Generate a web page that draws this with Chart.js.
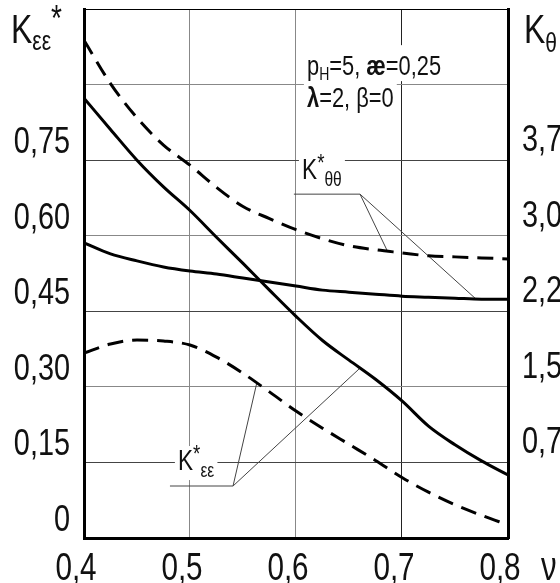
<!DOCTYPE html>
<html>
<head>
<meta charset="utf-8">
<script src="https://cdn.jsdelivr.net/npm/chart.js@4.4.1/dist/chart.umd.min.js"></script>
<style>
  html, body { margin: 0; padding: 0; background: #fff; overflow: hidden; }
</style>
</head>
<body>
<canvas class="js-chart" width="560" height="583"></canvas>
<script>
// values
const nu = [0.4, 0.425, 0.45, 0.475, 0.5, 0.525, 0.55, 0.575, 0.6, 0.625, 0.65, 0.675, 0.7, 0.725, 0.75, 0.775, 0.8]
const kEpsSolid = [0.873, 0.811, 0.750, 0.697, 0.650, 0.597, 0.545, 0.492, 0.440, 0.392, 0.353, 0.315, 0.272, 0.222, 0.185, 0.153, 0.125]
const kEpsDashed = [0.367, 0.385, 0.393, 0.391, 0.383, 0.359, 0.327, 0.290, 0.252, 0.218, 0.186, 0.154, 0.120, 0.091, 0.066, 0.045, 0.026]
const kThetaSolid = [2.93, 2.82, 2.75, 2.69, 2.65, 2.62, 2.58, 2.54, 2.50, 2.46, 2.44, 2.42, 2.40, 2.39, 2.38, 2.37, 2.37]
const kThetaDashed = [4.94, 4.51, 4.17, 3.90, 3.70, 3.48, 3.29, 3.17, 3.06, 2.97, 2.90, 2.86, 2.83, 2.80, 2.79, 2.78, 2.77]

const xTicks = ['0,4', '0,5', '0,6', '0,7', '0,8']
const leftTicks = ['0', '0,15', '0,30', '0,45', '0,60', '0,75']
const rightTicks = ['0,75', '1,50', '2,25', '3,00', '3,75']

// no narrow font installed, so text is squeezed sideways to look like the drafting font
const FONT = "'Liberation Sans', Arimo, sans-serif"
const SQUEEZE = 0.78

const toPoints = function(ys){
    return nu.map((x, i) => ({x: x, y: ys[i]}))
}

const setFont = function(ctx, size, bold){
    ctx.font = `${bold ? 'bold ' : ''}${size}px ${FONT}`
}

const drawText = function(ctx, text, x, y, size, align){
    ctx.save()
    setFont(ctx, size)
    const w = ctx.measureText(text).width * SQUEEZE
    let x0 = x
    if(align == 'right') x0 = x - w
    if(align == 'center') x0 = x - w / 2
    ctx.translate(x0, y)
    ctx.scale(SQUEEZE, 1)
    ctx.fillStyle = '#111'
    ctx.textAlign = 'left'
    ctx.textBaseline = 'alphabetic'
    ctx.fillText(text, 0, 0)
    ctx.restore()
}

// draws a run of text pieces: [text, size, dy, bold]
const drawRun = function(ctx, x, y, parts, mask){
    ctx.save()
    ctx.translate(x, y)
    ctx.scale(SQUEEZE, 1)
    const widths = parts.map(p => {
        setFont(ctx, p[1], p[3])
        return ctx.measureText(p[0]).width
    })
    if(mask){
        const w = widths.reduce((a, b) => a + b, 0)
        ctx.fillStyle = '#fff'
        ctx.fillRect(-4, -mask[0], w + 8, mask[0] + mask[1])
    }
    ctx.fillStyle = '#111'
    ctx.textBaseline = 'alphabetic'
    ctx.textAlign = 'left'
    let cx = 0
    parts.forEach((p, i) => {
        setFont(ctx, p[1], p[3])
        ctx.fillText(p[0], cx, p[2] || 0)
        cx += widths[i]
    })
    ctx.restore()
}

const notes = {
    id: 'notes',
    beforeDatasetsDraw(chart){
        const ctx = chart.ctx
        const sx = chart.scales.x, sy = chart.scales.y
        const px = v => sx.getPixelForValue(v)
        const py = v => sy.getPixelForValue(v)
        ctx.save()
        // parameter block
        drawRun(ctx, px(0.6104), py(0.9187), [['p', 28], ['H', 18, 5], ['=5, ', 28], ['æ', 28, 0, true], ['=0,25', 28]], [30, 6])
        drawRun(ctx, px(0.6104), py(0.855), [['λ', 28, 0, true], ['=2, β=0', 28]], [24, 4])
        // curve labels
        drawRun(ctx, px(0.6057), py(0.7123), [['K', 29], ['*', 24, -8], ['θθ', 20, 7]], [28, 12])
        drawRun(ctx, px(0.4887), py(0.1349), [['K', 29], ['*', 24, -8], ['εε', 20, 7]], [24, 10])
        // leader lines
        ctx.strokeStyle = '#444'
        ctx.lineWidth = 1
        const lead = function(pts){
            ctx.beginPath()
            ctx.moveTo(px(pts[0][0]), py(pts[0][1]))
            for(const p of pts.slice(1)) ctx.lineTo(px(p[0]), py(p[1]))
            ctx.stroke()
        }
        lead([[0.598, 0.6825], [0.6604, 0.6825], [0.6858, 0.5714]])
        lead([[0.6604, 0.6825], [0.7689, 0.476]])
        lead([[0.4811, 0.1032], [0.5406, 0.1032], [0.5632, 0.3095]])
        lead([[0.5406, 0.1032], [0.6604, 0.3373]])
        ctx.restore()
    },
    afterDraw(chart){
        const ctx = chart.ctx
        const area = chart.chartArea
        const sx = chart.scales.x, sy = chart.scales.y, sy2 = chart.scales.y2
        // tick labels
        sx.ticks.forEach((t, i) => {
            if(xTicks[i]) drawText(ctx, xTicks[i], sx.getPixelForTick(i) - 8, area.bottom + 42, 38, 'center')
        })
        sy.ticks.forEach((t, i) => {
            if(leftTicks[i]) drawText(ctx, leftTicks[i], area.left - 14, sy.getPixelForTick(i) - 7, 37, 'right')
        })
        sy2.ticks.forEach((t, i) => {
            if(i > 0 && rightTicks[i - 1]) drawText(ctx, rightTicks[i - 1], area.right + 14, sy2.getPixelForTick(i) - 9, 37, 'left')
        })
        // axis titles
        drawRun(ctx, 11, 43, [['K', 41], ['εε', 27, 7], ['*', 36, -12]])
        drawRun(ctx, 524, 43, [['K', 41], ['θ', 27, 9]])
        drawRun(ctx, 541, 580, [['ν', 40]])
    }
}

const initChart = function(){
    const line = (data, axis, dashed) => ({
        data: toPoints(data),
        yAxisID: axis,
        borderColor: '#000',
        borderWidth: 3,
        borderDash: dashed ? [16, 9] : [],
        pointRadius: 0,
        cubicInterpolationMode: 'monotone',
        fill: false
    })

    const config = {
        type: 'line',
        data: {
            datasets: [
                line(kThetaDashed, 'y2', true),
                line(kEpsSolid, 'y', false),
                line(kThetaSolid, 'y2', false),
                line(kEpsDashed, 'y', true)
            ]
        },
        options: {
            responsive: false,
            animation: false,
            layout: {padding: {top: 9, left: 0, right: 0, bottom: 0}},
            plugins: {legend: {display: false}, tooltip: {enabled: false}},
            scales: {
                x: {
                    type: 'linear',
                    min: 0.4,
                    max: 0.8,
                    ticks: {stepSize: 0.1, display: false},
                    grid: {
                        drawTicks: false,
                        color: c => (c.index == 3 ? '#222' : '#888'),
                        lineWidth: 1
                    },
                    border: {color: '#000', width: 3},
                    afterFit: s => { s.height = 45 }
                },
                y: {
                    position: 'left',
                    min: 0,
                    max: 1.05,
                    ticks: {stepSize: 0.15, display: false},
                    grid: {
                        drawTicks: false,
                        color: c => (c.index == 7 ? '#000' : (c.index % 2 == 0 ? '#888' : '#444')),
                        lineWidth: 1
                    },
                    border: {color: '#000', width: 3},
                    afterFit: s => { s.width = 84 }
                },
                y2: {
                    position: 'right',
                    min: 0,
                    max: 5.25,
                    ticks: {stepSize: 0.75, display: false},
                    grid: {display: false, drawTicks: false},
                    border: {color: '#000', width: 3},
                    afterFit: s => { s.width = 52 }
                }
            }
        },
        plugins: [notes]
    }

    const chart = new Chart(document.querySelector('.js-chart'), config)
}

document.addEventListener('DOMContentLoaded', function(){
    initChart()
})
</script>
</body>
</html>
